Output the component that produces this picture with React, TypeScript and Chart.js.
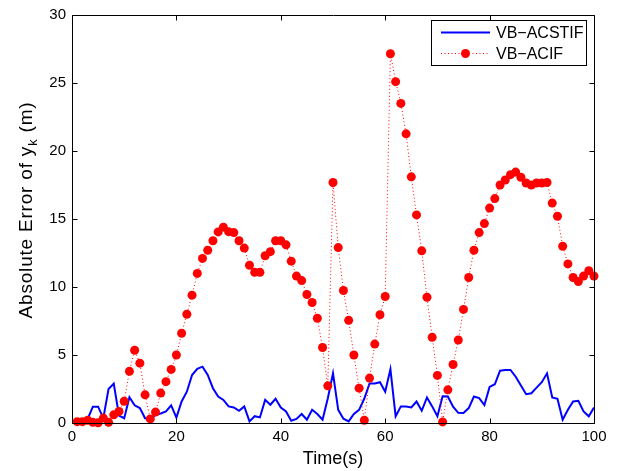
import React, { useEffect, useRef } from "react";
import { Chart, registerables } from "chart.js";

Chart.register(...registerables);

const timeSteps = [
  1, 2, 3, 4, 5, 6, 7, 8, 9, 10, 11, 12, 13, 14, 15, 16, 17, 18, 19, 20,
  21, 22, 23, 24, 25, 26, 27, 28, 29, 30, 31, 32, 33, 34, 35, 36, 37, 38, 39, 40,
  41, 42, 43, 44, 45, 46, 47, 48, 49, 50, 51, 52, 53, 54, 55, 56, 57, 58, 59, 60,
  61, 62, 63, 64, 65, 66, 67, 68, 69, 70, 71, 72, 73, 74, 75, 76, 77, 78, 79, 80,
  81, 82, 83, 84, 85, 86, 87, 88, 89, 90, 91, 92, 93, 94, 95, 96, 97, 98, 99, 100,
];

const vbAcstif = [
  0.1, 0.1, 0.3, 1.2, 1.2, 0.35, 2.5, 2.9, 0.55, 0.35,
  1.9, 1.3, 1.1, 0.35, 0.3, 0.6, 0.7, 0.85, 1.3, 0.4,
  1.58, 2.3, 3.53, 3.98, 4.14, 3.53, 2.56, 1.95, 1.7, 1.22,
  1.14, 0.9, 1.22, 0.12, 0.5, 0.41, 1.7, 1.34, 1.78, 1.14,
  0.85, 0.17, 0.3, 0.66, 0.24, 0.97, 0.66, 0.24, 1.8, 3.65,
  0.97, 0.32, 0.12, 0.66, 0.97, 1.8, 2.9, 2.9, 3.0, 2.3,
  3.95, 0.49, 1.22, 1.22, 1.14, 1.58, 0.9, 1.88, 1.22, 0.49,
  1.97, 1.95, 1.2, 0.75, 0.73, 1.1, 1.95, 1.83, 1.32, 2.65,
  2.85, 3.85, 3.9, 3.9, 3.4, 2.75, 2.12, 2.19, 2.6, 3.0,
  3.65, 1.88, 1.78, 0.24, 0.97, 1.58, 1.63, 0.85, 0.49, 1.14,
];

const vbAcif = [
  0.1, 0.1, 0.2, 0.05, 0.02, 0.36, 0.05, 0.6, 0.85, 1.6,
  3.8, 5.35, 4.4, 2.07, 0.3, 0.8, 2.2, 3.04, 3.94, 5.0,
  6.6, 8.0, 9.4, 11.0, 12.1, 12.7, 13.4, 14.05, 14.4, 14.07,
  14.0, 13.4, 12.86, 11.6, 11.08, 11.08, 12.3, 12.6, 13.4, 13.4,
  13.1, 11.9, 10.8, 10.47, 9.45, 8.86, 7.7, 5.55, 2.73, 17.68,
  12.9, 9.74, 7.55, 5.0, 2.56, 0.2, 3.3, 5.8, 7.96, 9.3,
  27.15, 25.1, 23.5, 21.26, 18.1, 15.3, 12.66, 9.25, 6.3, 3.5,
  0.08, 2.44, 4.3, 6.1, 8.35, 10.7, 12.7, 14.0, 14.66, 15.8,
  16.5, 17.5, 17.87, 18.26, 18.45, 18.07, 17.65, 17.5, 17.65, 17.65,
  17.68, 16.17, 15.2, 13.0, 11.7, 10.7, 10.4, 10.8, 11.2, 10.8,
];

const seriesNames = ["VB\u2212ACSTIF", "VB\u2212ACIF"];
const xTicks = [0, 20, 40, 60, 80, 100];
const yTicks = [0, 5, 10, 15, 20, 25, 30];
const xTitle = "Time(s)";
const yTitleMain = "Absolute Error of y";
const yTitleSub = "k";
const yTitleEnd = " (m)";

const FONT = "'Liberation Sans', Arial, Helvetica, sans-serif";

const framePlugin = {
  id: "matlabFrame",
  afterDraw(chart: any) {
    const { ctx, chartArea, scales } = chart;
    const { left, right, top, bottom } = chartArea;
    const xs = scales.x;
    const ys = scales.y;
    ctx.save();
    ctx.strokeStyle = "#000";
    ctx.lineWidth = 1;
    const L = Math.round(left) + 0.5;
    const R = Math.round(right) + 0.5;
    const T = Math.round(top) + 0.5;
    const B = Math.round(bottom) + 0.5;
    ctx.beginPath();
    ctx.rect(L, T, R - L, B - T);
    ctx.stroke();
    const tl = 5;
    ctx.beginPath();
    xTicks.forEach((v) => {
      const px = Math.round(xs.getPixelForValue(v)) + 0.5;
      ctx.moveTo(px, B);
      ctx.lineTo(px, B - tl);
      ctx.moveTo(px, T);
      ctx.lineTo(px, T + tl);
    });
    yTicks.forEach((v) => {
      const py = Math.round(ys.getPixelForValue(v)) + 0.5;
      ctx.moveTo(L, py);
      ctx.lineTo(L + tl, py);
      ctx.moveTo(R, py);
      ctx.lineTo(R - tl, py);
    });
    ctx.stroke();

    // legend
    const bx = 431.5, by = 20.5, bw = 155, bh = 45;
    ctx.fillStyle = "#fff";
    ctx.fillRect(bx, by, bw, bh);
    ctx.strokeRect(bx, by, bw, bh);
    const r1 = 32.5, r2 = 53.5;
    ctx.strokeStyle = "#0000ff";
    ctx.lineWidth = 2;
    ctx.beginPath();
    ctx.moveTo(441, r1);
    ctx.lineTo(490, r1);
    ctx.stroke();
    ctx.strokeStyle = "#ff0000";
    ctx.lineWidth = 1;
    ctx.setLineDash([1, 2.5]);
    ctx.beginPath();
    ctx.moveTo(441, r2);
    ctx.lineTo(490, r2);
    ctx.stroke();
    ctx.setLineDash([]);
    ctx.fillStyle = "#ff0000";
    ctx.beginPath();
    ctx.arc(465.5, r2, 4.5, 0, Math.PI * 2);
    ctx.fill();
    ctx.fillStyle = "#000";
    ctx.font = `16px ${FONT}`;
    ctx.textBaseline = "middle";
    ctx.textAlign = "left";
    ctx.fillText(seriesNames[0], 496, r1 + 1);
    ctx.fillText(seriesNames[1], 496, r2 + 1);

    // x title
    ctx.font = `18px ${FONT}`;
    ctx.textAlign = "center";
    ctx.textBaseline = "alphabetic";
    ctx.fillText(xTitle, (left + right) / 2, 464);

    // y title with subscript
    const mainFont = `19px ${FONT}`;
    const subFont = `13px ${FONT}`;
    ctx.letterSpacing = "0.8px";
    ctx.font = mainFont;
    const w1 = ctx.measureText(yTitleMain).width;
    const w3 = ctx.measureText(yTitleEnd).width;
    ctx.font = subFont;
    const w2 = ctx.measureText(yTitleSub).width;
    const total = w1 + w2 + w3;
    ctx.translate(32, 210);
    ctx.rotate(-Math.PI / 2);
    ctx.textAlign = "left";
    let cx = -total / 2;
    ctx.font = mainFont;
    ctx.fillText(yTitleMain, cx, 0);
    cx += w1;
    ctx.font = subFont;
    ctx.fillText(yTitleSub, cx, 4.5);
    cx += w2;
    ctx.font = mainFont;
    ctx.fillText(yTitleEnd, cx, 0);
    ctx.letterSpacing = "0px";
    ctx.restore();
  },
};

export default function App() {
  const ref = useRef<HTMLCanvasElement | null>(null);
  useEffect(() => {
    if (!ref.current) return;
    const chart = new Chart(ref.current, {
      type: "line",
      data: {
        datasets: [
          {
            label: seriesNames[0],
            data: timeSteps.map((t, i) => ({ x: t, y: vbAcstif[i] })),
            borderColor: "#0000ff",
            backgroundColor: "#0000ff",
            borderWidth: 2,
            pointRadius: 0,
            tension: 0,
            order: 1,
          },
          {
            label: seriesNames[1],
            data: timeSteps.map((t, i) => ({ x: t, y: vbAcif[i] })),
            borderColor: "#ff0000",
            backgroundColor: "#ff0000",
            borderWidth: 1,
            borderDash: [1, 2.5],
            pointRadius: 4.5,
            pointBorderWidth: 0,
            pointBackgroundColor: "#ff0000",
            tension: 0,
            clip: false,
            order: 0,
          },
        ],
      },
      options: {
        responsive: false,
        animation: false,
        devicePixelRatio: 1,
        layout: { padding: { left: 0, top: 13, right: 23, bottom: 0 } },
        plugins: {
          legend: { display: false },
          tooltip: { enabled: false },
        },
        scales: {
          x: {
            type: "linear",
            min: 0,
            max: 100,
            afterFit: (s: any) => {
              s.height = 48;
            },
            afterBuildTicks: (s: any) => {
              s.ticks = xTicks.map((v) => ({ value: v }));
            },
            grid: { display: false, drawTicks: false },
            border: { display: false },
            ticks: {
              padding: 5,
              color: "#000",
              font: { family: FONT, size: 15 },
              maxRotation: 0,
              autoSkip: false,
            },
          },
          y: {
            type: "linear",
            min: 0,
            max: 30,
            afterFit: (s: any) => {
              s.width = 72;
            },
            afterBuildTicks: (s: any) => {
              s.ticks = yTicks.map((v) => ({ value: v }));
            },
            grid: { display: false, drawTicks: false },
            border: { display: false },
            ticks: {
              padding: 6,
              color: "#000",
              font: { family: FONT, size: 15 },
              autoSkip: false,
            },
          },
        },
      },
      plugins: [framePlugin],
    });
    return () => chart.destroy();
  }, []);
  return (
    <div style={{ position: "absolute", left: 0, top: 0, width: 617, height: 471, background: "#fff" }}>
      <canvas ref={ref} width={617} height={471} />
    </div>
  );
}
